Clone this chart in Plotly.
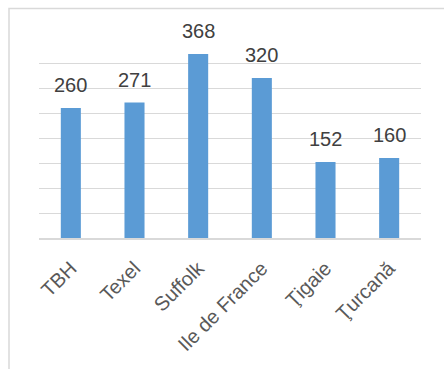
import plotly.graph_objects as go

categories = ["TBH", "Texel", "Suffolk", "Ile de France", "Ţigaie", "Ţurcană"]
values = [260, 271, 368, 320, 152, 160]

W, H = 444, 369
L, R, T, B = 39, 23, 38, 131

fig = go.Figure()
fig.add_trace(go.Bar(
    x=categories, y=values,
    marker=dict(color="#5B9BD5", line=dict(width=0)),
    width=0.315,
    hoverinfo="skip",
))

for c, v in zip(categories, values):
    fig.add_annotation(
        x=c, y=v, text=str(v), showarrow=False,
        yshift=23, yanchor="middle", xanchor="center",
        font=dict(family="Liberation Sans, Arial", size=20, color="#404040"),
    )

pw = W - L - R
ph = H - T - B
def px2x(px):
    return (px - L) / pw
def py2y(py):
    return 1 - (py - T) / ph

fig.add_shape(type="rect", xref="paper", yref="paper",
              x0=px2x(9), x1=px2x(520), y0=py2y(460), y1=py2y(8.5),
              line=dict(color="#D9D9D9", width=1.5), fillcolor="rgba(0,0,0,0)", layer="below")

fig.update_layout(
    width=W, height=H,
    margin=dict(l=L, r=R, t=T, b=B),
    paper_bgcolor="white", plot_bgcolor="white",
    showlegend=False,
    font=dict(family="Liberation Sans, Arial", size=20, color="#595959"),
    xaxis=dict(
        tickangle=-45, showgrid=False, showline=True, linecolor="#D9D9D9", linewidth=1.5,
        ticks="", tickfont=dict(size=20, color="#595959"), automargin=False,
        ticklabelstandoff=9,
    ),
    yaxis=dict(
        range=[0, 400], dtick=50, showticklabels=False, showgrid=True,
        gridcolor="#D9D9D9", gridwidth=1.3, zeroline=False, showline=False, ticks="",
        automargin=False,
    ),
)

fig.write_html("out.html")
